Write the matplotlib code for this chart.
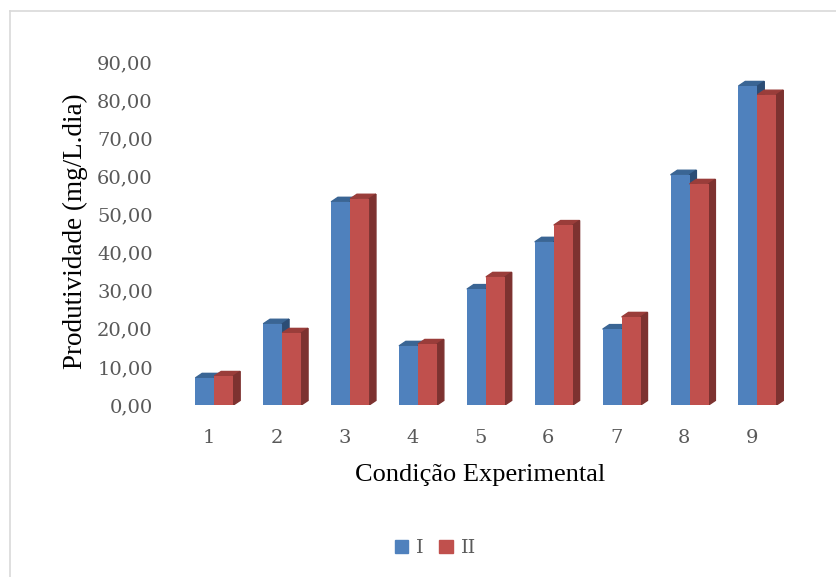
import matplotlib.pyplot as plt
from matplotlib.patches import Polygon, Patch
from matplotlib.lines import Line2D
import numpy as np

categories = ["1", "2", "3", "4", "5", "6", "7", "8", "9"]
serie_i = [7.1, 21.3, 53.3, 15.5, 30.4, 42.8, 19.9, 60.4, 83.7]
serie_ii = [7.6, 18.9, 54.1, 16.0, 33.6, 47.2, 23.1, 58.0, 81.4]
series_names = ["I", "II"]
yticks = np.arange(0, 91, 10)

# front, top, side colours of the fake 3D columns
colors = [("#4F81BD", "#3A6594", "#2C4D75"),
          ("#C0504D", "#9A3D3A", "#7D3230")]

fig = plt.figure(figsize=(8.37, 5.77), dpi=100)
ax = fig.add_axes([175 / 837, 172 / 577, 611 / 837, 343 / 577])

x = np.arange(1, len(categories) + 1)
width = 0.28
offset = -0.20
dx, dy = 0.10, 1.2  # depth of the columns in data units

for k, vals in enumerate([serie_i, serie_ii]):
    front, top, side = colors[k]
    z = 2 + 3 * k
    for xi, v in zip(x, vals):
        left = xi + offset + k * width
        right = left + width
        ax.bar(left, v, width=width, align="edge", color=front, zorder=z + 2)
        ax.add_patch(Polygon([(left, v), (left + dx, v + dy), (right + dx, v + dy), (right, v)],
                             closed=True, color=top, zorder=z))
        ax.add_patch(Polygon([(right, 0), (right + dx, dy), (right + dx, v + dy), (right, v)],
                             closed=True, color=side, zorder=z + 1))

ax.set_xlim(0.5, 9.5)
ax.set_ylim(0, 90)
ax.set_xticks(x)
ax.set_xticklabels(categories)
ax.set_yticks(yticks)
ax.set_yticklabels([f"{t:.2f}".replace(".", ",") for t in yticks])
for s in ax.spines.values():
    s.set_visible(False)
ax.tick_params(length=0, labelsize=14, labelcolor="#595959")
ax.tick_params(axis="x", pad=17)
ax.tick_params(axis="y", pad=16)
for lab in ax.get_xticklabels() + ax.get_yticklabels():
    lab.set_fontfamily("DejaVu Serif")

ax.set_ylabel("Produtividade (mg/L.dia)", fontsize=19.5, family="Liberation Serif")
ax.yaxis.set_label_coords(-0.142, 0.507)
ax.set_xlabel("Condição Experimental", fontsize=19, family="Liberation Serif")
ax.xaxis.set_label_coords(0.50, -0.172)

handles = [Patch(color=colors[0][0]), Patch(color=colors[1][0])]
leg = fig.legend(handles, series_names, loc="center", bbox_to_anchor=(0.52, 0.05),
                 ncol=2, frameon=False, handlelength=0.7, handleheight=0.7,
                 handletextpad=0.4, columnspacing=0.8,
                 prop={"family": "DejaVu Serif", "size": 14})
for t in leg.get_texts():
    t.set_color("#595959")

# chart area border (only left and top edges show)
fig.add_artist(Line2D([10 / 837, 10 / 837], [0, 1 - 11 / 577], color="#D9D9D9", lw=1.2))
fig.add_artist(Line2D([10 / 837, 1], [1 - 11 / 577, 1 - 11 / 577], color="#D9D9D9", lw=1.2))

fig.savefig("out.png", dpi=100)
